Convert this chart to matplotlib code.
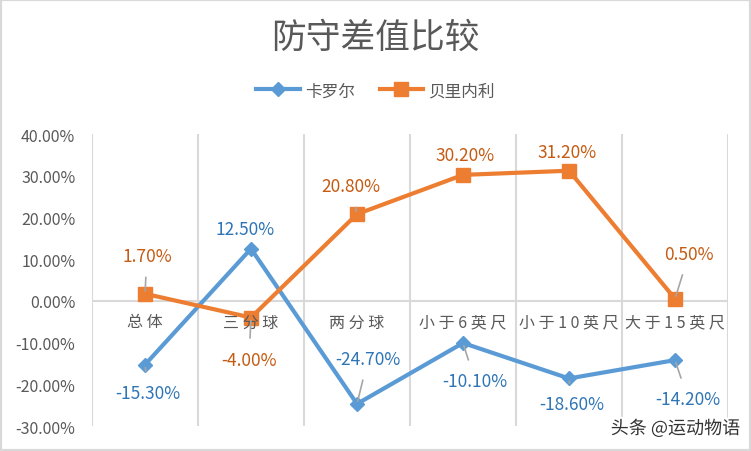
import matplotlib
matplotlib.use("Agg")
import matplotlib.pyplot as plt
import matplotlib.patheffects as pe
from matplotlib.patches import Rectangle

plt.rcParams['font.family'] = ['Noto Sans CJK SC', 'DejaVu Sans']

categories = ["总 体", "三 分 球", "两 分 球", "小 于 6 英 尺", "小 于 1 0 英 尺", "大 于 1 5 英 尺"]
carroll = [-15.3, 12.5, -24.7, -10.1, -18.6, -14.2]
belinelli = [1.7, -4.0, 20.8, 30.2, 31.2, 0.5]
yticks = [-30, -20, -10, 0, 10, 20, 30, 40]

# label offsets in pixels (styling only)
carroll_off = [(3, -28), (-6, 20), (11, 45), (12, -38), (3, -26), (13, -39)]
belinelli_off = [(2, 38), (-2, -42), (-6, 28), (2, 20), (-2, 19), (14, 45)]

blue = "#5B9BD5"
orange = "#ED7D31"
blue_txt = "#2E75B6"
orange_txt = "#C55A11"
grid = "#D9D9D9"
textgray = "#595959"

fig = plt.figure(figsize=(7.51, 4.52), dpi=100)
ax = fig.add_axes([0.1225, 0.0553, 0.8469, 0.646])
x = list(range(len(categories)))

ax.plot(x, carroll, color=blue, lw=3, marker="D", ms=7, label="卡罗尔", zorder=3)
ax.plot(x, belinelli, color=orange, lw=3, marker="s", ms=10, label="贝里内利", zorder=3)

ax.set_xlim(-0.5, len(categories) - 0.5)
ax.set_ylim(-30, 40)
ax.set_yticks(yticks)
ax.set_yticklabels(["{:.2f}%".format(v) for v in yticks], color=textgray, fontsize=11.5)
ax.tick_params(axis="y", length=0, pad=12)
ax.set_xticks([])
for s in ax.spines.values():
    s.set_visible(False)
for b in range(len(categories) + 1):
    ax.axvline(b - 0.5, color=grid, lw=1.5, zorder=0)
ax.axhline(0, color=grid, lw=1.5, zorder=1)

for i, c in enumerate(categories):
    ax.annotate(c, (i, 0), xytext=(0, -21), textcoords="offset pixels",
                ha="center", va="center", color=textgray, fontsize=11.5)

def labels(vals, offs, col):
    for i, (v, o) in enumerate(zip(vals, offs)):
        leader = abs(o[1]) > 24
        ap = dict(arrowstyle="-", color="#A6A6A6", lw=1.2, shrinkA=7, shrinkB=2) if leader else None
        ax.annotate("{:.2f}%".format(v), (i, v), xytext=o, textcoords="offset pixels",
                    ha="center", va="center", color=col, fontsize=12.5,
                    arrowprops=ap, zorder=4)

labels(carroll, carroll_off, blue_txt)
labels(belinelli, belinelli_off, orange_txt)

fig.text(0.5, 0.915, "防守差值比较", ha="center", va="center", fontsize=25, color=textgray)
fig.legend(loc="center", bbox_to_anchor=(0.5, 0.797), ncol=2, frameon=False,
           fontsize=12, labelcolor=textgray, handlelength=2.6, columnspacing=1.5,
           handletextpad=0.3)

fig.text(0.985, 0.05, "头条 @运动物语", ha="right", va="center", fontsize=13, color="#333333",
         path_effects=[pe.withStroke(linewidth=3, foreground="white")])

fig.patches.append(Rectangle((0, 0), 1, 1, transform=fig.transFigure, fill=False,
                             edgecolor=grid, lw=3))

fig.savefig("out.png", dpi=100)
